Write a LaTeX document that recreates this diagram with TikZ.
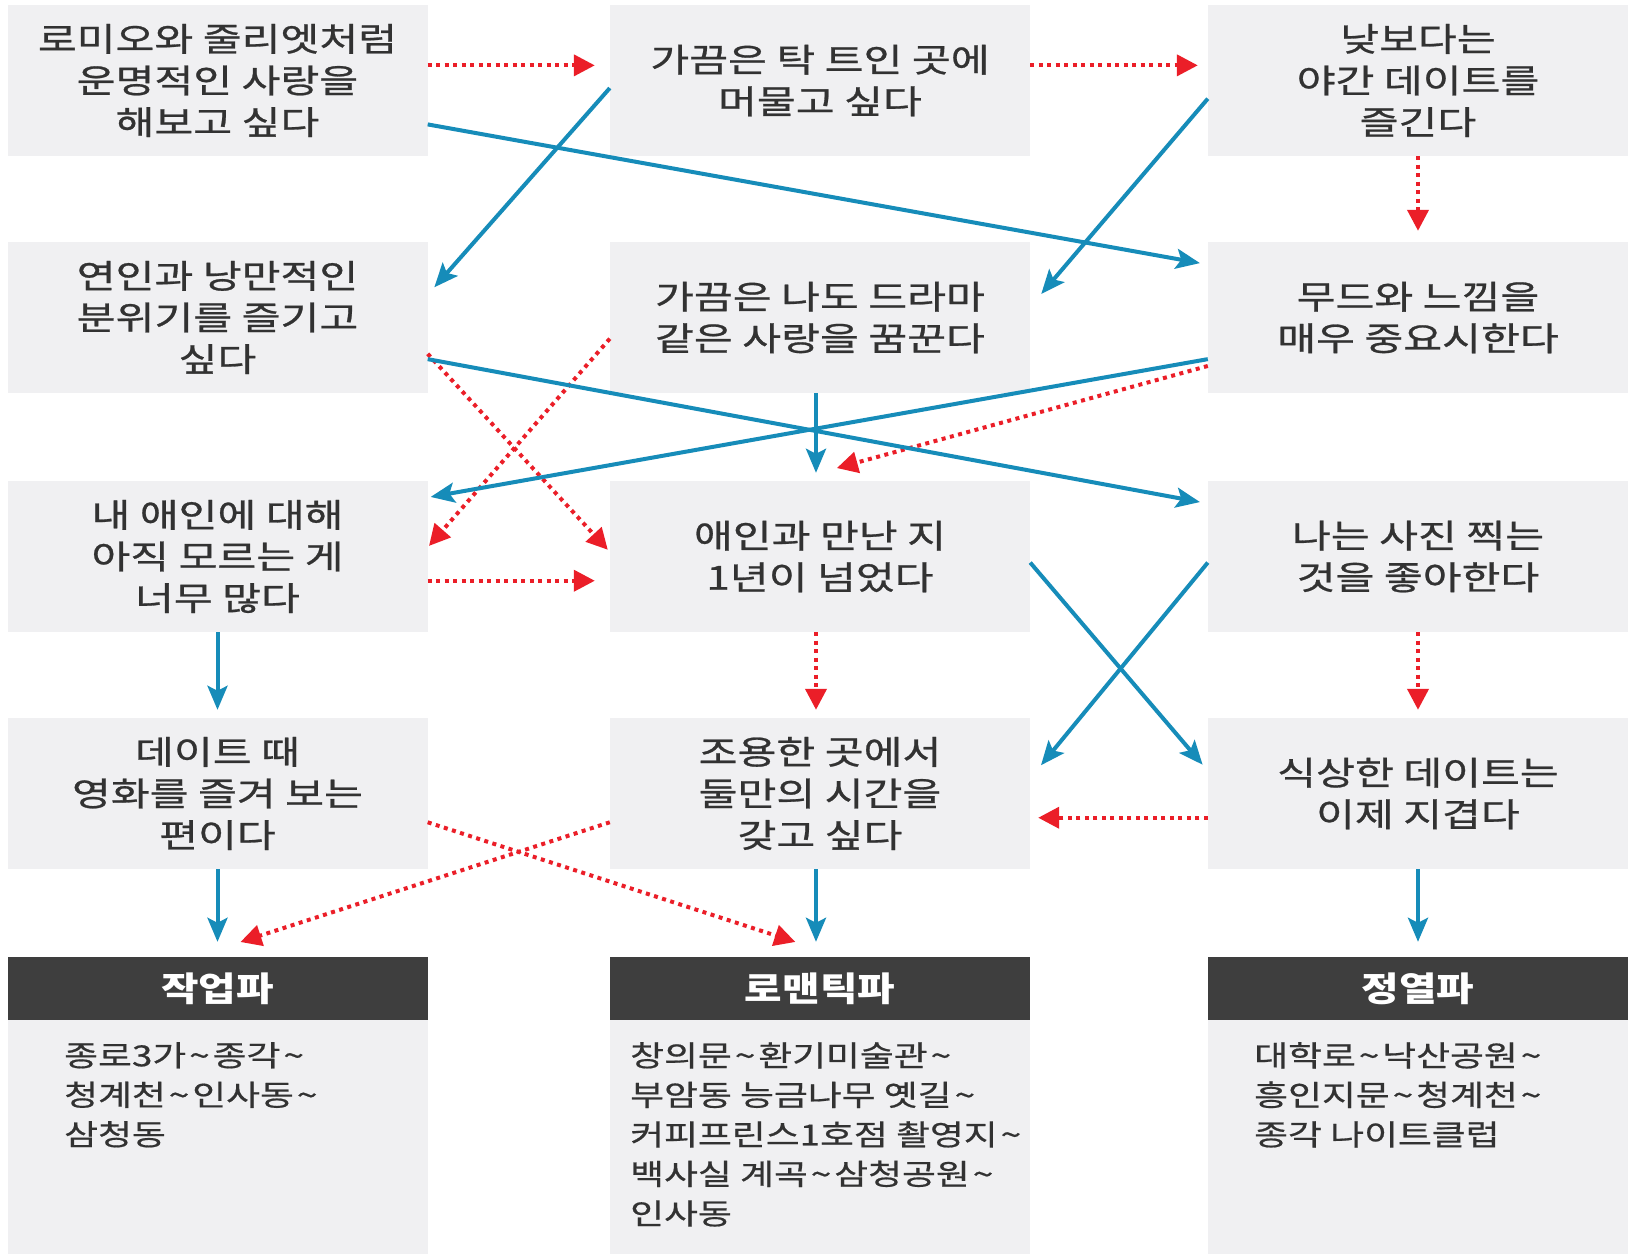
\documentclass[tikz,border=0pt]{standalone}
\usepackage{fontspec}
\setmainfont{Noto Sans CJK KR}
\newfontfamily\boxfont[FakeStretch=1.28,FakeBold=0.8]{Noto Sans CJK KR}
\newfontfamily\bodyfont[FakeStretch=1.27,FakeBold=0.6]{Noto Sans CJK KR}
\newfontfamily\hdrfont[FakeStretch=1.2]{Noto Sans CJK KR}
\newcommand\tld{\hspace{3pt}\textasciitilde\hspace{3pt}}
\usetikzlibrary{arrows.meta,calc}
\definecolor{boxgray}{RGB}{240,240,242}
\definecolor{hdrdark}{RGB}{62,62,62}
\definecolor{txt}{RGB}{50,50,50}
\definecolor{bluec}{RGB}{22,140,185}
\definecolor{redc}{RGB}{235,30,40}
\tikzset{
  box/.style={fill=boxgray, minimum width=420pt, minimum height=151pt, inner sep=0pt, align=center, text=txt, font=\boxfont\fontsize{33}{41.6}\selectfont},
  hdr/.style={fill=hdrdark, minimum width=420pt, minimum height=63pt, inner sep=0pt, text=white, font=\hdrfont\fontsize{34}{40}\selectfont\bfseries},
  bodybox/.style={fill=boxgray, minimum width=420pt, minimum height=234pt, inner sep=0pt},
  bodytext/.style={align=left, text=txt, font=\bodyfont\fontsize{29}{39.5}\selectfont, inner sep=0pt, anchor=north west},
  barrow/.style={draw=bluec, line width=4pt, -{Stealth[length=24pt,width=20pt,inset=5pt]}},
  rarrow/.style={draw=redc, line width=4pt, dash pattern=on 4pt off 4.5pt, -{Triangle[length=21pt,width=21pt]}},
}
\begin{document}
\begin{tikzpicture}[x=1pt,y=-1pt]
\fill[white] (0,0) rectangle (1632,1254);
\useasboundingbox (0,0) rectangle (1632,1254);
% row 1
\node[box] (b1) at (217.5,80.5) {로미오와 줄리엣처럼\\운명적인 사랑을\\해보고 싶다};
\node[box] (b2) at (820,80.5) {가끔은 탁 트인 곳에\\머물고 싶다};
\node[box] (b3) at (1418,80.5) {낮보다는\\야간 데이트를\\즐긴다};
% row 2
\node[box] (b4) at (217.5,317.5) {연인과 낭만적인\\분위기를 즐기고\\싶다};
\node[box] (b5) at (820,317.5) {가끔은 나도 드라마\\같은 사랑을 꿈꾼다};
\node[box] (b6) at (1418,317.5) {무드와 느낌을\\매우 중요시한다};
% row 3
\node[box] (b7) at (217.5,556.5) {내 애인에 대해\\아직 모르는 게\\너무 많다};
\node[box] (b8) at (820,556.5) {애인과 만난 지\\1년이 넘었다};
\node[box] (b9) at (1418,556.5) {나는 사진 찍는\\것을 좋아한다};
% row 4
\node[box] (b10) at (217.5,793.5) {데이트 때\\영화를 즐겨 보는\\편이다};
\node[box] (b11) at (820,793.5) {조용한 곳에서\\둘만의 시간을\\갖고 싶다};
\node[box] (b12) at (1418,793.5) {식상한 데이트는\\이제 지겹다};
% bodies
\node[bodybox] (d1) at (217.5,1137) {};
\node[bodybox] (d2) at (820,1137) {};
\node[bodybox] (d3) at (1418,1137) {};
\node[bodytext] (t1) at (64,1042) {종로3가\tld 종각\tld\\청계천\tld 인사동\tld\\삼청동};
\node[bodytext] (t2) at (630,1042) {창의문\tld 환기미술관\tld\\부암동 능금나무 옛길\tld\\커피프린스1호점 촬영지\tld\\백사실 계곡\tld 삼청공원\tld\\인사동};
\node[bodytext] (t3) at (1254,1042) {대학로\tld 낙산공원\tld\\흥인지문\tld 청계천\tld\\종각 나이트클럽};
% headers
\node[hdr] (h1) at (217.5,988.5) {작업파};
\node[hdr] (h2) at (820,988.5) {로맨틱파};
\node[hdr] (h3) at (1418,988.5) {정열파};
% red dotted connectors
\draw[rarrow, shorten >=15pt] ($(b1.north east)!0.40!(b1.south east)$) -- ($(b2.north west)!0.40!(b2.south west)$);
\draw[rarrow, shorten >=10pt] ($(b2.north east)!0.40!(b2.south east)$) -- ($(b3.north west)!0.40!(b3.south west)$);
\draw[rarrow, shorten >=11pt] (b3.south) -- (b6.north);
\draw[rarrow, shorten >=15pt] ($(b7.north east)!0.66!(b7.south east)$) -- ($(b8.north west)!0.66!(b8.south west)$);
\draw[rarrow, shorten >=8pt] ($(b8.south)+(-4,0)$) -- ($(b11.north)+(-4,0)$);
\draw[rarrow, shorten >=8pt] (b9.south) -- (b12.north);
\draw[rarrow, shorten >=8pt] ($(b12.north west)!0.66!(b12.south west)$) -- ($(b11.north east)!0.66!(b11.south east)$);
\draw[rarrow, shorten >=3pt] ($(b4.north east)!0.74!(b4.south east)$) -- ($(b8.north west)!0.47!(b8.south west)$);
\draw[rarrow, shorten >=2pt] ($(b5.north west)!0.64!(b5.south west)$) -- ($(b7.north east)!0.44!(b7.south east)$);
\draw[rarrow, shorten >=48pt] ($(b6.north west)!0.82!(b6.south west)$) -- ($(b8.north west)!0.43!(b8.north east)$);
\draw[rarrow, shorten >=48pt] ($(b10.north east)!0.69!(b10.south east)$) -- ($(h2.north west)!0.55!(h2.north east)$);
\draw[rarrow, shorten >=48pt] ($(b11.north west)!0.69!(b11.south west)$) -- ($(h1.north west)!0.446!(h1.north east)$);
% blue connectors
\draw[barrow, shorten >=10pt] ($(b2.north west)!0.55!(b2.south west)$) -- ($(b4.north east)!0.35!(b4.south east)$);
\draw[barrow, shorten >=8pt] ($(b1.north east)!0.79!(b1.south east)$) -- ($(b6.north west)!0.15!(b6.south west)$);
\draw[barrow, shorten >=17pt] ($(b3.north west)!0.62!(b3.south west)$) -- ($(b5.north east)!0.43!(b5.south east)$);
\draw[barrow, shorten >=8pt] ($(b4.north east)!0.775!(b4.south east)$) -- ($(b9.north west)!0.15!(b9.south west)$);
\draw[barrow, shorten >=3pt] ($(b6.north west)!0.775!(b6.south west)$) -- ($(b7.north east)!0.11!(b7.south east)$);
\draw[barrow, shorten >=8pt] ($(b5.south)+(-4,0)$) -- ($(b8.north)+(-4,0)$);
\draw[barrow, shorten >=8pt] (b7.south) -- (b10.north);
\draw[barrow, shorten >=8pt] ($(b8.north east)!0.54!(b8.south east)$) -- ($(b12.north west)!0.35!(b12.south west)$);
\draw[barrow, shorten >=17pt] ($(b9.north west)!0.54!(b9.south west)$) -- ($(b11.north east)!0.40!(b11.south east)$);
\draw[barrow, shorten >=15pt] (b10.south) -- (h1.north);
\draw[barrow, shorten >=15pt] ($(b11.south)+(-4,0)$) -- ($(h2.north)+(-4,0)$);
\draw[barrow, shorten >=15pt] (b12.south) -- (h3.north);
\end{tikzpicture}
\end{document}
